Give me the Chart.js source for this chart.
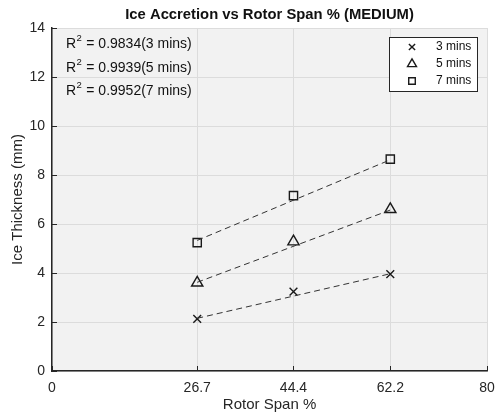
<!DOCTYPE html>
<html>
<head>
<meta charset="utf-8">
<script src="https://cdn.jsdelivr.net/npm/chart.js@4/dist/chart.umd.min.js"></script>
<style>
  html, body { margin: 0; padding: 0; background: #fff; }
  #wrap { width: 495px; height: 416px; }
</style>
</head>
<body>
<div id="wrap"><canvas id="c" width="495" height="416"></canvas></div>
<script>
// data
const spans = [26.7, 44.4, 62.2];
const xTicks = [0, 26.7, 44.4, 62.2, 80];
const ice3 = [2.13, 3.24, 3.95];
const ice5 = [3.6, 5.28, 6.6];
const ice7 = [5.24, 7.16, 8.65];
// dashed fit lines: start/end points
const fitX = [26.7, 62.2];
const fit3 = [2.15, 3.97];
const fit5 = [3.62, 6.57];
const fit7 = [5.33, 8.62];
const seriesNames = ['3 mins', '5 mins', '7 mins'];
const r2Values = ['0.9834', '0.9939', '0.9952'];

const FONT = "'Liberation Sans', Arial, sans-serif";
const INK = '#262626';
const markers = [
  { pointStyle: 'crossRot', radius: 5.5 },
  { pointStyle: 'triangle', radius: 6.5 },
  { pointStyle: 'rect', radius: 5.8 }
];

function pts(xs, ys) {
  return xs.map((x, i) => ({ x: x, y: ys[i] }));
}

function fitSet(ys) {
  return {
    type: 'line', data: pts(fitX, ys), showLine: true,
    borderColor: '#333', borderWidth: 1, borderDash: [6, 4],
    pointRadius: 0, fill: false
  };
}

function markSet(i, ys) {
  return {
    label: seriesNames[i], data: pts(spans, ys),
    pointStyle: markers[i].pointStyle, pointRadius: markers[i].radius,
    pointBorderColor: '#1a1a1a', pointBackgroundColor: 'rgba(0,0,0,0)',
    pointBorderWidth: 1.4, showLine: false
  };
}

// plot background
const bgPlugin = {
  id: 'bg',
  beforeDraw(chart) {
    const a = chart.chartArea, ctx = chart.ctx;
    ctx.save();
    ctx.fillStyle = '#f2f2f2';
    ctx.fillRect(a.left, a.top, a.right - a.left, a.bottom - a.top);
    ctx.restore();
  }
};

// title, inward ticks, R^2 notes, legend
const decoPlugin = {
  id: 'deco',
  afterDraw(chart) {
    const a = chart.chartArea, ctx = chart.ctx;
    const xs = chart.scales.x, ys = chart.scales.y;
    ctx.save();

    // inward tick marks
    ctx.strokeStyle = INK;
    ctx.lineWidth = 1;
    ctx.beginPath();
    xTicks.forEach(v => {
      const px = Math.round(xs.getPixelForValue(v)) + 0.5;
      ctx.moveTo(px, a.bottom);
      ctx.lineTo(px, a.bottom - 5);
    });
    ys.ticks.forEach(t => {
      const py = Math.round(ys.getPixelForValue(t.value)) + 0.5;
      ctx.moveTo(a.left, py);
      ctx.lineTo(a.left + 5, py);
    });
    ctx.stroke();

    // title
    ctx.fillStyle = '#111';
    ctx.font = 'bold 14.8px ' + FONT;
    ctx.textAlign = 'center';
    ctx.textBaseline = 'middle';
    ctx.fillText('Ice Accretion vs Rotor Span % (MEDIUM)', (a.left + a.right) / 2, 15);

    // R^2 notes
    ctx.textAlign = 'left';
    ctx.textBaseline = 'alphabetic';
    r2Values.forEach((r, i) => {
      const base = 48 + i * 23.5;
      let x = 66;
      ctx.font = '14px ' + FONT;
      ctx.fillText('R', x, base);
      x += ctx.measureText('R').width;
      ctx.font = '9.5px ' + FONT;
      ctx.fillText('2', x + 0.5, base - 7);
      x += ctx.measureText('2').width + 1;
      ctx.font = '14px ' + FONT;
      ctx.fillText(' = ' + r + '(' + seriesNames[i] + ')', x, base);
    });

    // legend box
    const lx = 389, ly = 37, lw = 88, lh = 54;
    ctx.fillStyle = '#fff';
    ctx.fillRect(lx, ly, lw, lh);
    ctx.strokeStyle = INK;
    ctx.lineWidth = 1;
    ctx.strokeRect(lx + 0.5, ly + 0.5, lw, lh);
    seriesNames.forEach((name, i) => {
      const cy = ly + 10 + i * 17;
      ctx.strokeStyle = '#1a1a1a';
      ctx.fillStyle = 'rgba(0,0,0,0)';
      ctx.lineWidth = 1.4;
      Chart.helpers.drawPoint(ctx, {
        pointStyle: markers[i].pointStyle,
        radius: markers[i].radius * 0.8,
        rotation: 0, borderWidth: 1.4
      }, 412, cy);
      ctx.fillStyle = '#111';
      ctx.font = '12px ' + FONT;
      ctx.textAlign = 'left';
      ctx.textBaseline = 'middle';
      ctx.fillText(name, 436, cy);
    });

    ctx.restore();
  }
};

new Chart(document.getElementById('c'), {
  type: 'scatter',
  data: {
    datasets: [
      fitSet(fit3), fitSet(fit5), fitSet(fit7),
      markSet(0, ice3), markSet(1, ice5), markSet(2, ice7)
    ]
  },
  options: {
    responsive: false,
    animation: false,
    devicePixelRatio: 1,
    layout: { padding: { top: 28, right: 0, left: 0, bottom: 0 } },
    plugins: {
      legend: { display: false },
      title: { display: false },
      tooltip: { enabled: false }
    },
    scales: {
      x: {
        type: 'linear', min: 0, max: 80,
        afterBuildTicks: s => { s.ticks = xTicks.map(v => ({ value: v })); },
        afterFit: s => { s.height = 45; s.paddingLeft = 0; s.paddingRight = 7; },
        grid: { color: '#dcdcdc', drawTicks: false },
        border: { display: true, color: INK, width: 1.5 },
        ticks: {
          color: INK, padding: 9, maxRotation: 0, autoSkip: false,
          font: { family: FONT, size: 14 },
          callback: v => String(v)
        },
        title: {
          display: true, text: 'Rotor Span %', color: INK,
          font: { family: FONT, size: 15 }, padding: { top: 0, bottom: 2 }
        }
      },
      y: {
        min: 0, max: 14,
        ticks: {
          stepSize: 2, color: INK, padding: 7,
          font: { family: FONT, size: 14 }
        },
        afterFit: s => { s.width = 52; s.paddingTop = 0; s.paddingBottom = 0; },
        grid: { color: '#dcdcdc', drawTicks: false },
        border: { display: true, color: INK, width: 1.5 },
        title: {
          display: true, text: 'Ice Thickness (mm)', color: INK,
          font: { family: FONT, size: 15 }, padding: { top: 9, bottom: 0 }
        }
      }
    }
  },
  plugins: [bgPlugin, decoPlugin]
});
</script>
</body>
</html>
